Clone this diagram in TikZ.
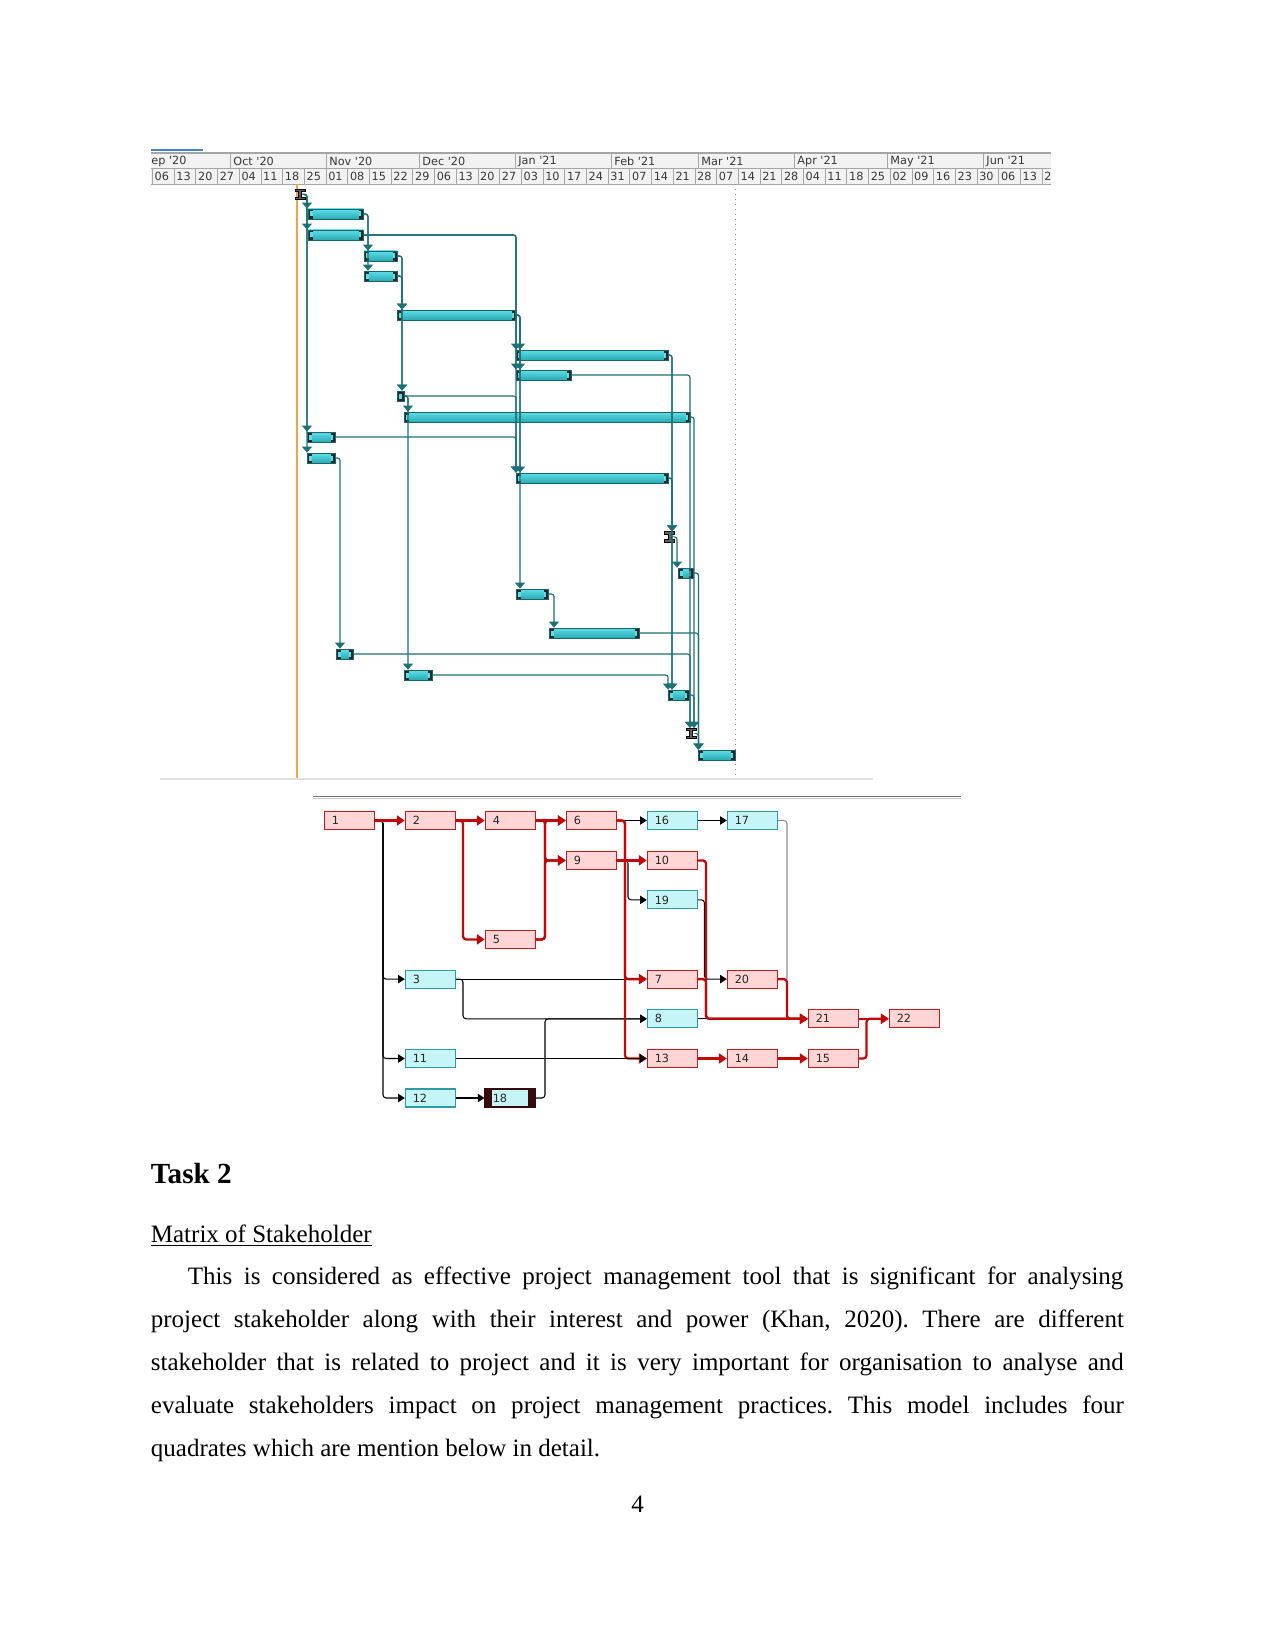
\documentclass[tikz,border=0pt]{standalone}
\usepackage{fontspec}
\setmainfont{Liberation Serif}
\newfontfamily\gfont{DejaVu Sans}
\usetikzlibrary{arrows.meta,calc}
\frenchspacing

\definecolor{gteal}{RGB}{28,112,118}
\definecolor{cyanL}{RGB}{150,242,246}
\definecolor{cyanM}{RGB}{95,222,230}
\definecolor{cyanD}{RGB}{40,170,180}
\definecolor{barline}{RGB}{25,100,105}
\definecolor{capD}{RGB}{40,40,40}
\definecolor{capG}{RGB}{95,95,95}
\definecolor{hdrbg}{RGB}{242,242,242}
\definecolor{hdrline}{RGB}{165,165,165}
\definecolor{hdrtxt}{RGB}{55,55,55}
\definecolor{critF}{RGB}{255,213,213}
\definecolor{critB}{RGB}{200,25,30}
\definecolor{critL}{RGB}{192,8,8}
\definecolor{ncF}{RGB}{198,245,247}
\definecolor{ncB}{RGB}{45,155,162}
\definecolor{darkM}{RGB}{55,10,12}
\definecolor{blueL}{RGB}{70,130,205}
\definecolor{orangeL}{RGB}{240,165,75}

\newcommand\gbarnode[4]{\node[gbar, minimum width={(#3-#2)*0.48pt}] (#1) at ({(#2+#3)/2},#4) {};}
\newcommand\gmile[3]{%
  \node[inner sep=0pt, minimum width=4.8pt, minimum height=5pt] (#1) at (#2,#3) {};
  \filldraw[fill=capG, draw=black, line width=0.35pt, shift={(#2,#3)}]
    (-5,-5.2) -- (5,-5.2) -- (5,-2.7) -- (1.6,-2.7) -- (1.6,2.7) -- (5,2.7) -- (5,5.2)
    -- (-5,5.2) -- (-5,2.7) -- (-1.6,2.7) -- (-1.6,-2.7) -- (-5,-2.7) -- cycle;}

\begin{document}
\begin{tikzpicture}[x=0.48pt,y=-0.48pt,
  hdrtext/.style={font=\gfont\fontsize{5.4}{6}\selectfont, text=hdrtxt, inner sep=0pt},
  gbar/.style={rectangle, inner sep=0pt, minimum height=4.8pt, draw=barline, line width=0.35pt,
    top color=cyanM, middle color=cyanL, bottom color=cyanD,
    path picture={
      \fill[capD] (path picture bounding box.north west) rectangle ($(path picture bounding box.south west)+(4.5,0)$);
      \fill[cyanM] ($(path picture bounding box.north west)+(2,2.5)$) rectangle ($(path picture bounding box.south west)+(4.5,-2.5)$);
      \fill[capD] (path picture bounding box.north east) rectangle ($(path picture bounding box.south east)+(-4.5,0)$);
      \fill[cyanM] ($(path picture bounding box.north east)+(-2,2.5)$) rectangle ($(path picture bounding box.south east)+(-4.5,-2.5)$);
    }},
  glink/.style={draw=gteal, line width=0.55pt, rounded corners=1.2pt, -{Triangle[width=4.8pt,length=2.9pt]}},
  nbox/.style={rectangle, line width=0.5pt, minimum height=8.64pt, inner ysep=0pt, inner xsep=3.6pt,
    text width=16.8pt, align=left, font=\gfont\fontsize{5.4}{6}\selectfont, text=black!85},
  crit/.style={nbox, draw=critB, fill=critF},
  ncrit/.style={nbox, draw=ncB, fill=ncF},
  dark/.style={nbox, draw=darkM, fill=ncF, line width=0.8pt,
    path picture={
      \fill[darkM] (path picture bounding box.north west) rectangle ($(path picture bounding box.south west)+(7,0)$);
      \fill[darkM] (path picture bounding box.north east) rectangle ($(path picture bounding box.south east)+(-7,0)$);
    }},
  nlink/.style={draw=black, line width=0.5pt, rounded corners=1.5pt, -{Triangle[width=4pt,length=3.2pt]}},
  clink/.style={draw=critL, line width=1.1pt, rounded corners=1.5pt, -{Triangle[width=4.8pt,length=3.8pt]}},
  glinkgray/.style={draw=black!45, line width=0.5pt, rounded corners=1.5pt}
]
\useasboundingbox (0,0) rectangle (1275,1651);

% ---------------- Gantt header ----------------
\draw[blueL, line width=0.7pt] (150.5,150) -- (203,150);
\fill[hdrbg] (150.5,153) rectangle (1051,184);
\draw[hdrline, line width=0.5pt] (150.5,153) -- (1051,153);
\draw[hdrline, line width=0.4pt] (150.5,168) -- (1051,168);
\draw[hdrline, line width=0.4pt] (150.5,184) -- (1051,184);
\foreach \xx in {230,326.1,419.1,515.2,611.3,698.1,794.2,887.2,983.3}
  \draw[hdrline, line width=0.4pt] (\xx,153) -- (\xx,168);
\foreach \xx/\lab in {151/ep \textquotesingle20, 233/Oct \textquotesingle20, 329/Nov \textquotesingle20,
    422/Dec \textquotesingle20, 518/Jan \textquotesingle21, 614/Feb \textquotesingle21, 701/Mar \textquotesingle21,
    797/Apr \textquotesingle21, 890/May \textquotesingle21, 986/Jun \textquotesingle21}
  \node[hdrtext, anchor=west] at (\xx,161) {\lab};
\foreach \lab [count=\k from 0] in {06,13,20,27,04,11,18,25,01,08,15,22,29,06,13,20,27,03,10,17,24,31,07,14,21,28,07,14,21,28,04,11,18,25,02,09,16,23,30,06,13,2}{
  \pgfmathsetmacro\xx{230+3.1*(7*\k-25)}
  \draw[hdrline, line width=0.4pt] (\xx,168) -- (\xx,184);
  \node[hdrtext, anchor=west] at ({\xx+1.8},176.5) {\lab};
}

% guide lines
\draw[orangeL, line width=0.5pt] (297,184) -- (297,779);
\draw[black!45, line width=0.4pt, dotted] (735,184) -- (735,779);
\draw[black!12, line width=0.5pt] (160,779) -- (873,779);

% ---------------- Gantt bars ----------------
\gbarnode{gB}{308}{363}{214}
\gbarnode{gC}{308}{363}{235}
\gbarnode{gD}{364}{397}{256}
\gbarnode{gE}{364}{397}{276}
\gbarnode{gF}{397}{516}{315}
\gbarnode{gG}{516}{668}{355}
\gbarnode{gH}{516}{571}{375}
\gbarnode{gI}{397}{404}{396}
\gbarnode{gJ}{404}{690}{417}
\gbarnode{gK}{307}{335}{437}
\gbarnode{gL}{307}{335}{458}
\gbarnode{gM}{516}{668}{478}
\gbarnode{gO}{678}{693}{573}
\gbarnode{gP}{516}{548}{594}
\gbarnode{gQ}{549}{639}{633}
\gbarnode{gR}{336}{353}{654}
\gbarnode{gS}{404}{432}{675}
\gbarnode{gT}{668}{689}{695}
\gbarnode{gV}{698}{735}{755}
\gmile{gA}{300}{194.5}
\gmile{gN}{669.5}{537}
\gmile{gU}{691}{733.5}

% channels
\coordinate (k1) at (307,0);
\coordinate (k2) at (368,0);
\coordinate (k3) at (516,0);
\coordinate (k4) at (402,0);
\coordinate (k5) at (520,0);
\coordinate (k6) at (408,0);
\coordinate (k7) at (340,0);
\coordinate (k8) at (672,0);
\coordinate (k9) at (690,0);
\coordinate (k10) at (694,0);
\coordinate (k11) at (677,0);
\coordinate (k12) at (698.5,0);
\coordinate (k13) at (554,0);
\coordinate (k14) at (668,0);

\draw[glink] (gA.east) -| (gB.north -| k1);
\draw[glink] (gA.east) -| (gC.north -| k1);
\draw[glink] (gA.east) -| (gK.north -| k1);
\draw[glink] (gA.east) -| (gL.north -| k1);
\draw[glink] (gB.east) -| (gD.north -| k2);
\draw[glink] (gB.east) -| (gE.north -| k2);
\draw[glink] (gC.east) -| (gG.north -| k3);
\draw[glink] (gC.east) -| (gH.north -| k3);
\draw[glink] (gC.east) -| (gM.north -| k3);
\draw[glink] (gD.east) -| (gF.north -| k4);
\draw[glink] (gD.east) -| (gI.north -| k4);
\draw[glink] (gE.east) -| (gF.north -| k4);
\draw[glink] (gE.east) -| (gI.north -| k4);
\draw[glink] (gF.east) -| (gG.north -| k5);
\draw[glink] (gF.east) -| (gH.north -| k5);
\draw[glink] (gF.east) -| (gM.north -| k5);
\draw[glink] (gF.east) -| (gP.north -| k5);
\draw[glink] (gI.east) -| (gJ.north -| k6);
\draw[glink] (gI.east) -| (gS.north -| k6);
\draw[glink] (gI.east) -| (gM.north -| k3);
\draw[glink] (gK.east) -| (gM.north -| k3);
\draw[glink] (gL.east) -| (gR.north -| k7);
\draw[glink] (gG.east) -| (gN.north -| k8);
\draw[glink] (gG.east) -| (gT.north -| k8);
\draw[glink] (gM.east) -| (gN.north -| k8);
\draw[glink] (gM.east) -| (gT.north -| k8);
\draw[glink] (gH.east) -| (gU.north -| k9);
\draw[glink] (gR.east) -| (gU.north -| k9);
\draw[glink] (gJ.east) -| (gU.north -| k10);
\draw[glink] (gT.east) -| (gU.north -| k10);
\draw[glink] (gN.east) -| (gO.north -| k11);
\draw[glink] (gO.east) -| (gV.north -| k12);
\draw[glink] (gQ.east) -| (gV.north -| k12);
\draw[glink] (gU.east) -| (gV.north -| k12);
\draw[glink] (gP.east) -| (gQ.north -| k13);
\draw[glink] (gS.east) -| (gT.north -| k14);

% ---------------- Network diagram ----------------
\draw[black!55, line width=0.7pt] (313,796.5) -- (961,796.5);
\draw[black!22, line width=0.5pt] (313,798.5) -- (961,798.5);

\node[crit]  (n1)  at (349.3,820.5) {1};
\node[crit]  (n2)  at (430.3,820.5) {2};
\node[crit]  (n4)  at (510.3,820.5) {4};
\node[crit]  (n6)  at (591.3,820.5) {6};
\node[ncrit] (n16) at (672.3,820.5) {16};
\node[ncrit] (n17) at (752.3,820.5) {17};
\node[crit]  (n9)  at (591.3,860.4) {9};
\node[crit]  (n10) at (672.3,860.4) {10};
\node[ncrit] (n19) at (672.3,899.9) {19};
\node[crit]  (n5)  at (510.3,939.4) {5};
\node[ncrit] (n3)  at (430.3,979.1) {3};
\node[crit]  (n7)  at (672.3,979.1) {7};
\node[crit]  (n20) at (752.3,979.1) {20};
\node[ncrit] (n8)  at (672.3,1018.8) {8};
\node[crit]  (n21) at (833.3,1018.8) {21};
\node[crit]  (n22) at (914.3,1018.8) {22};
\node[ncrit] (n11) at (430.3,1058.5) {11};
\node[crit]  (n13) at (672.3,1058.5) {13};
\node[crit]  (n14) at (752.3,1058.5) {14};
\node[crit]  (n15) at (833.3,1058.5) {15};
\node[ncrit] (n12) at (430.3,1098) {12};
\node[dark]  (n18) at (510.3,1098) {18};

\coordinate (q1) at (383,0);
\coordinate (q2) at (463,0);
\coordinate (q3) at (545,0);
\coordinate (q4) at (625,0);
\coordinate (q5) at (628,0);
\coordinate (q6) at (706,0);
\coordinate (q6b) at (704.5,0);
\coordinate (q7) at (787,0);
\coordinate (q8) at (866.5,0);

% black links
\draw[nlink] (n1.east) -| (q1 |- n3.west) -- (n3.west);
\draw[nlink] (n1.east) -| (q1 |- n11.west) -- (n11.west);
\draw[nlink] (n1.east) -| (q1 |- n12.west) -- (n12.west);
\draw[nlink] (n6.east) -- (n16.west);
\draw[nlink] (n16.east) -- (n17.west);
\draw[nlink] (n9.east) -| (q5 |- n19.west) -- (n19.west);
\draw[nlink] (n3.east) -- (n7.west);
\draw[nlink] (n3.east) -| (q2 |- n8.west) -- (n8.west);
\draw[nlink] (n18.east) -| (q3 |- n8.west) -- (n8.west);
\draw[nlink] (n12.east) -- (n18.west);
\draw[nlink] (n19.east) -| (q6b |- n20.west) -- (n20.west);
\draw[nlink] (n8.east) -- (n21.west);
\draw[glinkgray] (n17.east) -| (q7 |- n20.west);

% critical links
\draw[clink] (n1.east) -- (n2.west);
\draw[clink] (n2.east) -- (n4.west);
\draw[clink] (n2.east) -| (q2 |- n5.west) -- (n5.west);
\draw[clink] (n4.east) -- (n6.west);
\draw[clink] (n4.east) -| (q3 |- n9.west) -- (n9.west);
\draw[clink] (n5.east) -| (q3 |- n6.west) -- (n6.west);
\draw[clink] (n5.east) -| (q3 |- n9.west) -- (n9.west);
\draw[clink] (n6.east) -| (q4 |- n7.west) -- (n7.west);
\draw[clink] (n6.east) -| (q4 |- n13.west) -- (n13.west);
\draw[clink] (n9.east) -- (n10.west);
\draw[clink] (n10.east) -| (q6 |- n21.west) -- (n21.west);
\draw[clink] (n7.east) -| (q6 |- n21.west) -- (n21.west);
\draw[clink] (n20.east) -| (q7 |- n21.west) -- (n21.west);
\draw[clink] (n21.east) -- (n22.west);
\draw[clink] (n15.east) -| (q8 |- n22.west) -- (n22.west);
\draw[clink] (n13.east) -- (n14.west);
\draw[clink] (n14.east) -- (n15.west);
\draw[nlink] (n11.east) -- (n13.west);

% ---------------- Text ----------------
\node[anchor=base west, inner sep=0pt] (t1) at (150.5,1183) {\fontsize{14}{16}\selectfont\bfseries Task 2};
\node[anchor=base west, inner sep=0pt] (t2) at (150.5,1242) {\fontsize{12}{14}\selectfont\underline{Matrix of Stakeholder}};
\node[anchor=base west, inner sep=0pt] (p1) at (187.5,1284) {\fontsize{12}{14}\selectfont\makebox[449pt][s]{This is considered as effective project management tool that is significant for analysing}};
\node[anchor=base west, inner sep=0pt] (p2) at (150.5,1327) {\fontsize{12}{14}\selectfont\makebox[467pt][s]{project stakeholder along with their interest and power (Khan, 2020). There are different}};
\node[anchor=base west, inner sep=0pt] (p3) at (150.5,1370.5) {\fontsize{12}{14}\selectfont\makebox[467pt][s]{stakeholder that is related to project and it is very important for organisation to analyse and}};
\node[anchor=base west, inner sep=0pt] (p4) at (150.5,1413.5) {\fontsize{12}{14}\selectfont\makebox[467pt][s]{evaluate stakeholders impact on project management practices. This model includes four}};
\node[anchor=base west, inner sep=0pt] (p5) at (150.5,1456.5) {\fontsize{12}{14}\selectfont quadrates which are mention below in detail.};
\node[anchor=base, inner sep=0pt] (pg) at (637.5,1512) {\fontsize{12}{14}\selectfont 4};
\end{tikzpicture}
\end{document}
